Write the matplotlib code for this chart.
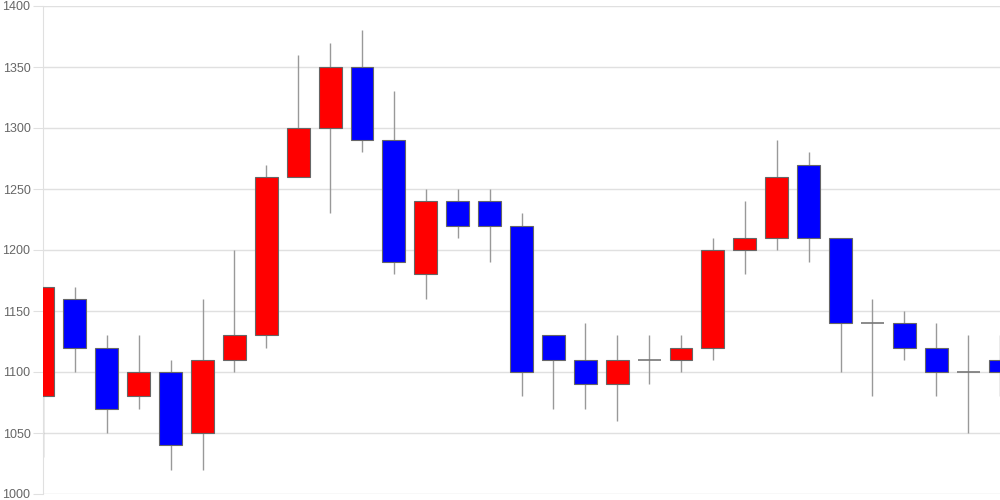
import numpy as np
import matplotlib
matplotlib.use("Agg")
import matplotlib.pyplot as plt
from matplotlib.patches import Rectangle

plt.rcParams['font.family'] = ['Liberation Sans', 'DejaVu Sans']

upcol = "#FF0000"
downcol = "#0000FF"

# daily prices, oldest first
opens  = [1080, 1160, 1120, 1080, 1100, 1050, 1110, 1130, 1260, 1300, 1350, 1290, 1180, 1240, 1240, 1220,
          1130, 1110, 1090, 1110, 1110, 1120, 1200, 1210, 1270, 1210, 1140, 1140, 1120, 1100, 1110]
closes = [1170, 1120, 1070, 1100, 1040, 1110, 1130, 1260, 1300, 1350, 1290, 1190, 1240, 1220, 1220, 1100,
          1110, 1090, 1110, 1110, 1120, 1200, 1210, 1260, 1210, 1140, 1140, 1120, 1100, 1100, 1100]
highs  = [1170, 1170, 1130, 1130, 1110, 1160, 1200, 1270, 1360, 1370, 1380, 1330, 1250, 1250, 1250, 1230,
          1130, 1140, 1130, 1130, 1130, 1210, 1240, 1290, 1280, 1210, 1160, 1150, 1140, 1130, 1130]
lows   = [1030, 1100, 1050, 1070, 1020, 1020, 1100, 1120, 1260, 1230, 1280, 1180, 1160, 1210, 1190, 1080,
          1070, 1070, 1060, 1090, 1100, 1110, 1180, 1200, 1190, 1100, 1080, 1110, 1080, 1050, 1080]
yticks = [1000, 1050, 1100, 1150, 1200, 1250, 1300, 1350, 1400]

fig = plt.figure(figsize=(10, 5), dpi=100)
ax = fig.add_axes([0.043, 0.012, 0.957, 0.976])

w = 0.72
x = np.arange(len(opens))
for i in x:
    o, c, h, l = opens[i], closes[i], highs[i], lows[i]
    ax.vlines(i, l, h, color="#999999", linewidth=1.0, zorder=2)
    if o == c:
        # doji: just a flat line
        ax.hlines(o, i - w / 2, i + w / 2, color="#777777", linewidth=1.2, zorder=3)
        continue
    col = upcol if c > o else downcol
    ax.add_patch(Rectangle((i - w / 2, min(o, c)), w, abs(c - o),
                           facecolor=col, edgecolor="#666666", linewidth=0.8, zorder=3))

ax.set_xlim(0, len(opens) - 1)
ax.set_ylim(1000, 1400)
ax.set_yticks(yticks)
ax.set_xticks([])
ax.grid(axis='y', color="#e0e0e0", linewidth=1.0, zorder=0)
ax.set_axisbelow(True)
for s in ['top', 'right', 'bottom']:
    ax.spines[s].set_visible(False)
ax.spines['left'].set_color("#e0e0e0")
ax.tick_params(axis='y', length=7.5, color="#e0e0e0", labelcolor="#666666",
               labelsize=9, pad=1.5)

fig.savefig("out.png", dpi=100)
